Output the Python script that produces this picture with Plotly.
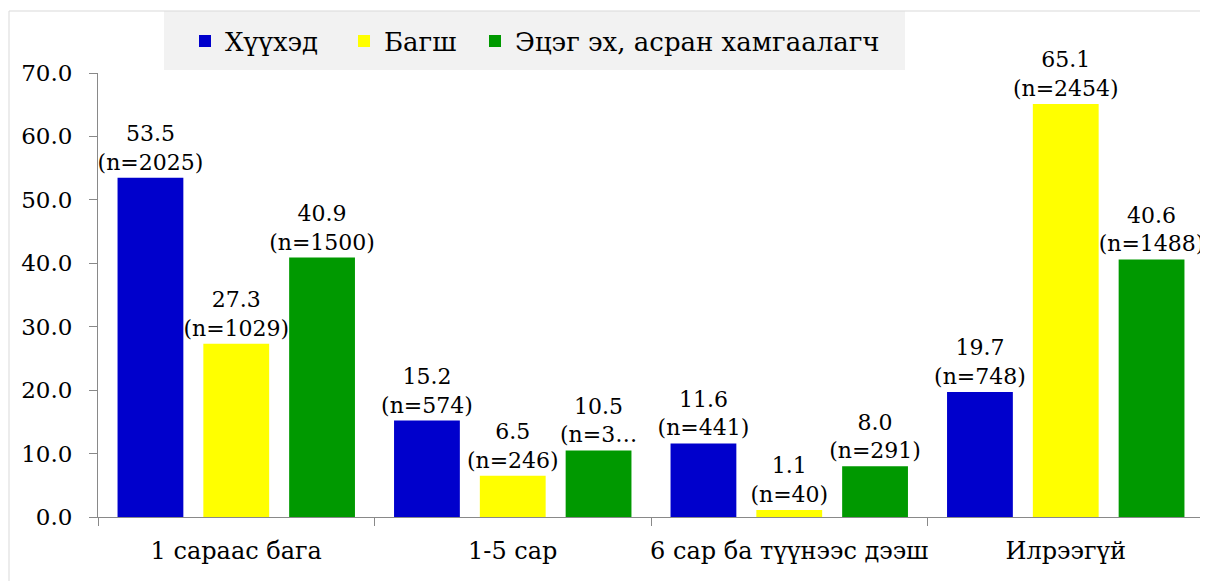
import plotly.graph_objects as go

categories = ["1 сараас бага", "1-5 сар", "6 сар ба түүнээс дээш", "Илрээгүй"]
series_names = ["Хүүхэд", "Багш", "Эцэг эх, асран хамгаалагч"]
children = [53.5, 15.2, 11.6, 19.7]
teachers = [27.3, 6.5, 1.1, 65.1]
parents = [40.9, 10.5, 8.0, 40.6]
children_n = ["(n=2025)", "(n=574)", "(n=441)", "(n=748)"]
teachers_n = ["(n=1029)", "(n=246)", "(n=40)", "(n=2454)"]
parents_n = ["(n=1500)", "(n=3…", "(n=291)", "(n=1488)"]
colors = ["#0000CC", "#FFFF00", "#009900"]
y_ticks = [0, 10, 20, 30, 40, 50, 60, 70]

FONT = "DejaVu Serif"
FS = 23
FS_LBL = 22
FS_CAT = 24
FS_LEG = 26

# page offset of the plot div (body margin)
OFF = 8
W, H = 1208 - OFF, 581 - OFF
PL, PR, PT, PB = 98, 1204, 73, 517  # plot area in page pixels
ml, mr, mt, mb = PL - OFF, W + OFF - PR, PT - OFF, H + OFF - PB


def px_x(x):
    return (x - PL) / (PR - PL)


def px_y(y):
    return (PB - y) / (PB - PT)


legend_ids = ["legend", "legend2", "legend3"]
legend_text_x = [226, 385, 516]

fig = go.Figure()
for name, vals, ns, col, lid in zip(series_names, [children, teachers, parents],
                                    [children_n, teachers_n, parents_n], colors, legend_ids):
    fig.add_trace(go.Bar(
        name=name, x=categories, y=vals, legend=lid,
        marker=dict(color=col, line=dict(width=0)),
        text=[f"{v:.1f}<br>{n}" for v, n in zip(vals, ns)],
        textposition="outside", constraintext="none", cliponaxis=False,
        textfont=dict(family=FONT, size=FS_LBL, color="#000000"),
        hoverinfo="skip",
    ))

legends = {}
for lid, tx in zip(legend_ids, legend_text_x):
    legends[lid] = dict(orientation="h", x=px_x(tx - 41), y=px_y(41), xanchor="left",
                        yanchor="middle", bgcolor="rgba(0,0,0,0)",
                        font=dict(family=FONT, size=FS_LEG, color="#000000"),
                        itemclick=False, itemdoubleclick=False)

fig.update_layout(
    width=W, height=H,
    margin=dict(l=ml, r=mr, t=mt, b=mb, pad=0),
    paper_bgcolor="white", plot_bgcolor="white",
    barmode="group", bargap=0.069, bargroupgap=0.233,
    font=dict(family=FONT, size=FS, color="#000000"),
    showlegend=True,
    **legends,
    shapes=[
        dict(type="rect", xref="paper", yref="paper",
             x0=px_x(164), x1=px_x(905), y0=px_y(70), y1=px_y(11),
             fillcolor="#F2F2F2", line=dict(width=0), layer="below"),
        dict(type="rect", xref="paper", yref="paper",
             x0=px_x(9), x1=px_x(1215), y0=px_y(590), y1=px_y(11),
             fillcolor="rgba(0,0,0,0)", line=dict(width=1, color="#D9D9D9"), layer="below"),
    ],
    xaxis=dict(
        type="category", showgrid=False, showline=True, linecolor="#898989", linewidth=1,
        ticks="outside", tickson="boundaries", ticklen=8, tickcolor="#898989",
        tickfont=dict(family=FONT, size=FS_CAT, color="#000000"), tickangle=0,
        ticklabelstandoff=12,
        range=[-0.5, 3.5], zeroline=False, automargin=False,
    ),
    yaxis=dict(
        range=[0, 70], tickvals=y_ticks, tickformat=".1f", showgrid=False,
        showline=True, linecolor="#898989", linewidth=1, ticks="outside", ticklen=8,
        tickcolor="#898989", tickfont=dict(family=FONT, size=FS, color="#000000"),
        ticklabelstandoff=12,
        zeroline=False, automargin=False,
    ),
)

fig.write_html("out.html")
